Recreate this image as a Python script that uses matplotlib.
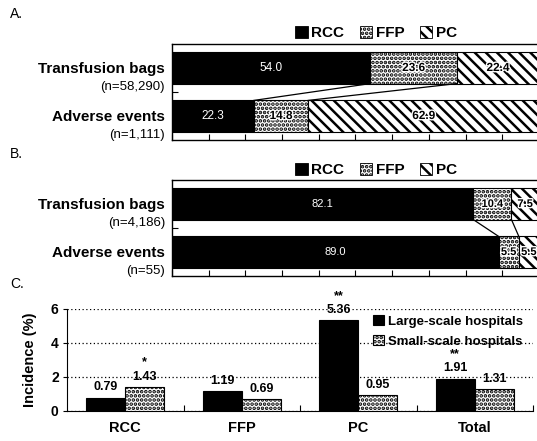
import matplotlib
matplotlib.use("Agg")
import matplotlib.pyplot as plt
from matplotlib.patches import Patch
import matplotlib.patheffects as pe

plt.rcParams['font.family'] = ['Liberation Sans', 'DejaVu Sans']
plt.rcParams['hatch.linewidth'] = 1.8

# ---------------- data ----------------
components = ["RCC", "FFP", "PC"]
rows = ["Transfusion bags", "Adverse events"]
a_n = ["(n=58,290)", "(n=1,111)"]
a_bags = [54.0, 23.6, 22.4]
a_events = [22.3, 14.8, 62.9]
b_n = ["(n=4,186)", "(n=55)"]
b_bags = [82.1, 10.4, 7.5]
b_events = [89.0, 5.5, 5.5]

c_categories = ["RCC", "FFP", "PC", "Total"]
c_large = [0.79, 1.19, 5.36, 1.91]
c_small = [1.43, 0.69, 0.95, 1.31]
c_large_sig = ["", "", "**", "**"]
c_small_sig = ["*", "", "", ""]
c_yticks = [0, 2, 4, 6]

W, H = 537, 441
fig = plt.figure(figsize=(W / 100, H / 100), dpi=100)


def ax_px(l, t, r, b):
    return fig.add_axes([l / W, 1 - b / H, (r - l) / W, (b - t) / H])


face = ["black", "white", "white"]
hatches = [None, "....", "\\\\\\"]
txtcol = ["white", "black", "black"]
txtw = ["normal", "bold", "bold"]
halo = [[], [pe.withStroke(linewidth=2, foreground="white")],
        [pe.withStroke(linewidth=2, foreground="white")]]


def stacked_panel(top, bottom, bags, events, nlabels, legend_y, letter, letter_y, vsize):
    ax = ax_px(172, top, 539, bottom)
    ax.set_xlim(0, 100)
    ax.set_ylim(1.5, -0.5)
    h = 0.65
    for yi, vals in enumerate([bags, events]):
        left = 0
        for k, v in enumerate(vals):
            ax.barh(yi, v, left=left, height=h, color=face[k], edgecolor="black",
                    hatch=hatches[k], linewidth=0.8)
            ax.text(left + v / 2, yi, f"{v:.1f}", ha="center", va="center",
                    color=txtcol[k], fontsize=vsize, fontweight=txtw[k],
                    path_effects=halo[k])
            left += v
    # connector lines
    cb = 0
    ce = 0
    for k in range(2):
        cb += bags[k]
        ce += events[k]
        ax.plot([cb, ce], [h / 2, 1 - h / 2], color="black", lw=0.9)
    ax.set_xticks(range(0, 101, 10))
    ax.set_xticklabels([])
    ax.set_yticks([0.5])
    ax.set_yticklabels([])
    ax.tick_params(direction="in", length=4, width=0.8)
    for s in ax.spines.values():
        s.set_linewidth(1.0)
    for yi in range(2):
        ax.annotate(rows[yi], xy=(0, yi), xycoords=ax.get_yaxis_transform(),
                    xytext=(-5, -1), textcoords="offset points", ha="right",
                    va="center", fontsize=11, fontweight="bold")
        ax.annotate(nlabels[yi], xy=(0, yi), xycoords=ax.get_yaxis_transform(),
                    xytext=(-5, -14), textcoords="offset points", ha="right",
                    va="center", fontsize=9.5)
    handles = [Patch(facecolor=face[k], edgecolor="black", hatch=hatches[k], lw=0.6)
               for k in range(3)]
    fig.legend(handles, components, loc="center", bbox_to_anchor=(376 / W, 1 - legend_y / H),
               ncol=3, frameon=False, handlelength=0.8, handleheight=0.8,
               handletextpad=0.25, columnspacing=1.0,
               prop={"weight": "bold", "size": 11})
    fig.text(10 / W, 1 - letter_y / H, letter, fontsize=10, va="center", ha="left")
    return ax


stacked_panel(44, 140, a_bags, a_events, a_n, 33, "A.", 14, 8.5)
stacked_panel(180, 276, b_bags, b_events, b_n, 170, "B.", 154, 8)

# ---------------- panel C ----------------
ax = ax_px(67, 309, 533, 411)
x = range(len(c_categories))
bw = 0.335
xs_l = [i - bw / 2 for i in x]
xs_s = [i + bw / 2 for i in x]
ax.bar(xs_l, c_large, width=bw, color="black", edgecolor="black", lw=0.8,
       label="Large-scale hospitals", zorder=3)
ax.bar(xs_s, c_small, width=bw, color="white", edgecolor="black", lw=0.8,
       hatch="....", label="Small-scale hospitals", zorder=3)
for xv, v, s in list(zip(xs_l, c_large, c_large_sig)) + list(zip(xs_s, c_small, c_small_sig)):
    ax.annotate(f"{v:.2f}", xy=(xv, v), xytext=(0, 3), textcoords="offset points",
                ha="center", va="bottom", fontsize=9, fontweight="bold", zorder=5)
    if s:
        ax.annotate(s, xy=(xv, v), xytext=(0, 13), textcoords="offset points",
                    ha="center", va="bottom", fontsize=9, fontweight="bold", zorder=5)
ax.set_xlim(-0.5, 3.5)
ax.set_ylim(0, 6)
ax.set_yticks(c_yticks)
ax.set_yticklabels([str(t) for t in c_yticks], fontweight="bold", fontsize=10)
ax.yaxis.grid(True, linestyle=(0, (1, 2)), color="black", lw=0.9, zorder=0)
ax.set_xticks([0.5, 1.5, 2.5, 3.5])
ax.set_xticklabels([])
ax.set_xticks(list(x), minor=True)
ax.set_xticklabels(c_categories, minor=True, fontweight="bold", fontsize=10.5)
ax.tick_params(axis="x", which="major", direction="in", length=4)
ax.tick_params(axis="x", which="minor", length=0, pad=7)
ax.tick_params(axis="y", length=3, pad=3)
ax.spines["top"].set_visible(False)
ax.spines["right"].set_visible(False)
ax.set_ylabel("Incidence (%)", fontweight="bold", fontsize=10.5, labelpad=10)
ax.legend(loc="upper left", bbox_to_anchor=(368 / W, 1 - 310 / H),
          bbox_transform=fig.transFigure, frameon=False, handlelength=0.8,
          handleheight=0.8, handletextpad=0.3, labelspacing=0.55,
          prop={"weight": "bold", "size": 9.5}, borderaxespad=0)
fig.text(10 / W, 1 - 284 / H, "C.", fontsize=10, va="center", ha="left")

fig.savefig("out.png", dpi=100)
